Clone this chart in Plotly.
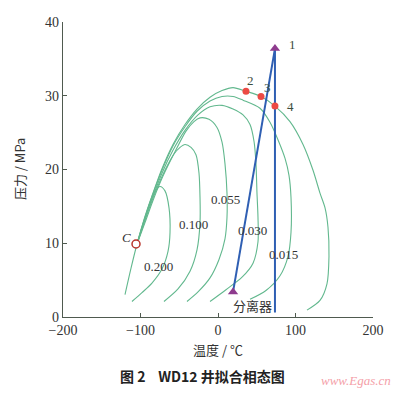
import plotly.graph_objects as go

# Phase envelope (bubble + dew curve), temperature (°C) / pressure (MPa)
env_x = [-120.0, -112.3, -104.5, -95.5, -85.2, -72.3, -58.1, -42.6, -27.1, -10.3, 5.2, 19.4, 36.1, 55.5, 73.5, 92.9, 109.7, 122.6, 131.6, 138.1, 141.9, 143.2, 140.6, 131.6, 114.8]
env_y = [3.05, 6.6, 9.9, 13.2, 16.4, 20.1, 23.4, 26.1, 28.2, 29.8, 30.7, 31.1, 30.6, 29.9, 28.6, 26.5, 23.4, 19.9, 16.8, 14.8, 12.2, 8.2, 4.5, 2.25, 0.93]

# Quality lines
q015_x = [-104.5, -95.5, -85.2, -72.3, -58.1, -42.6, -27.1, -10.3, 5.2, 19.4, 32.3, 54.2, 67.1, 78.7, 86.5, 91.6, 94.2, 94.2, 90.3, 80.0, 61.9, 41.3]
q015_y = [9.9, 13.1, 16.3, 19.9, 23.2, 25.8, 27.9, 29.3, 29.9, 29.9, 29.4, 28.3, 26.4, 23.7, 21.5, 19.2, 16.2, 11.5, 8.2, 5.6, 3.6, 2.4]

q030_x = [-104.5, -95.5, -85.2, -72.3, -58.1, -42.6, -25.8, -10.3, 5.2, 19.4, 32.3, 41.3, 46.5, 49.0, 50.3, 51.6, 51.6, 45.2, 31.0, 10.3, -10.3]
q030_y = [9.9, 13.0, 16.0, 19.5, 22.6, 25.3, 27.4, 28.5, 28.7, 28.2, 27.4, 26.1, 23.8, 20.8, 16.8, 13.5, 10.2, 7.3, 5.4, 3.7, 2.1]

q055_x = [-104.5, -94.2, -83.9, -71.0, -55.5, -41.3, -31.0, -23.2, -11.6, -1.3, 5.2, 9.0, 11.6, 11.6, 9.0, 1.3, -10.3, -25.8, -40.0]
q055_y = [9.9, 12.8, 15.8, 19.1, 22.4, 25.2, 26.5, 27.0, 26.8, 25.7, 23.7, 20.8, 16.8, 13.5, 10.6, 7.8, 5.3, 3.4, 2.1]

q100_x = [-104.5, -92.9, -81.3, -68.4, -56.8, -49.0, -42.6, -34.8, -28.4, -24.5, -23.2, -23.2, -27.1, -36.1, -51.6, -69.7]
q100_y = [9.9, 13.5, 16.8, 19.9, 22.1, 23.0, 23.4, 23.0, 22.0, 19.5, 16.2, 12.8, 9.1, 6.2, 3.8, 2.1]

q200_x = [-104.5, -95.5, -87.7, -81.3, -74.8, -68.4, -63.2, -61.9, -64.5, -72.3, -85.2, -98.1, -111.0]
q200_y = [9.9, 12.8, 15.5, 17.0, 17.7, 17.1, 14.8, 11.5, 8.9, 6.5, 4.6, 3.3, 2.1]

# Quality labels
q_labels = ["0.015", "0.030", "0.055", "0.100", "0.200"]
q_label_x = [83.9, 43.9, 10.3, -31.0, -77.4]
q_label_y = [8.5, 11.7, 15.9, 12.6, 6.9]

# Well path: point 1 and separator
well_top = (73.5, 36.4)
sep_pt = (19.4, 3.4)
vert_bottom_y = 0.6

# Measured points 2-4
pt_labels = ["2", "3", "4"]
pt_x = [36.1, 55.5, 73.5]
pt_y = [30.6, 29.9, 28.6]

# Critical point
crit_x = [-105.8]
crit_y = [9.9]

x_ticks = [-200, -100, 0, 100, 200]
y_ticks = [0, 10, 20, 30, 40]

GREEN = "#62b88e"
BLUE = "#2f5fb3"
PURPLE = "#8e3b8e"
RED = "#ec4a44"
AXIS = "#4f5a4f"
TXT = "#333333"
SERIF = "Liberation Serif, Noto Sans CJK SC, serif"
CJK = "Noto Sans CJK SC, Liberation Serif, serif"

fig = go.Figure()

for xs, ys in [(env_x, env_y), (q015_x, q015_y), (q030_x, q030_y), (q055_x, q055_y), (q100_x, q100_y), (q200_x, q200_y)]:
    fig.add_trace(go.Scatter(x=xs, y=ys, mode="lines",
                             line=dict(color=GREEN, width=1.1, shape="spline", smoothing=0.8),
                             hoverinfo="skip", showlegend=False))

# Well lines
fig.add_trace(go.Scatter(x=[sep_pt[0], well_top[0]], y=[sep_pt[1], well_top[1]], mode="lines",
                         line=dict(color=BLUE, width=2), showlegend=False))
fig.add_trace(go.Scatter(x=[well_top[0], well_top[0]], y=[well_top[1], vert_bottom_y], mode="lines",
                         line=dict(color=BLUE, width=2), showlegend=False))
# Triangles
fig.add_trace(go.Scatter(x=[well_top[0], sep_pt[0]], y=[well_top[1], sep_pt[1]], mode="markers",
                         marker=dict(symbol="triangle-up", size=9, color=PURPLE), showlegend=False))
# Red points
fig.add_trace(go.Scatter(x=pt_x, y=pt_y, mode="markers",
                         marker=dict(size=7, color=RED), showlegend=False))
# Critical point
fig.add_trace(go.Scatter(x=crit_x, y=crit_y, mode="markers",
                         marker=dict(size=8, color="white", line=dict(color="#b8342c", width=1.5)),
                         showlegend=False))

ann = []
for t, x, y in zip(q_labels, q_label_x, q_label_y):
    ann.append(dict(x=x, y=y, text=t, showarrow=False, font=dict(family=SERIF, size=13, color=TXT)))
ann.append(dict(x=well_top[0], y=well_top[1] + 0.6, text="1", xshift=18, showarrow=False,
                font=dict(family=SERIF, size=13, color="#3d4d3d")))
offs = [(5, 11), (6, 9), (16, 0)]
for t, x, y, (dx, dy) in zip(pt_labels, pt_x, pt_y, offs):
    ann.append(dict(x=x, y=y, text=t, xshift=dx, yshift=dy, showarrow=False,
                    font=dict(family=SERIF, size=13, color="#3d4d3d")))
ann.append(dict(x=crit_x[0], y=crit_y[0], text="<i>C</i>", xshift=-10, yshift=6, showarrow=False,
                font=dict(family=SERIF, size=13, color=TXT)))
ann.append(dict(x=43.9, y=1.6, text="分离器", showarrow=False, font=dict(family=CJK, size=13, color=TXT)))
# Axis titles, caption, watermark
ann.append(dict(xref="paper", yref="paper", x=0.5, y=-0.11, text="温度 / ℃", showarrow=False,
                yanchor="middle", font=dict(family=CJK, size=13, color=TXT)))
ann.append(dict(xref="paper", x=-0.14, yref="paper", y=0.5, text="压力 / MPa", textangle=-90, showarrow=False,
                xanchor="center", font=dict(family=CJK, size=13, color=TXT)))
ann.append(dict(xref="paper", yref="paper", x=0.45, y=-0.2, text="<b>图 2    WD12 井拟合相态图</b>",
                showarrow=False, yanchor="middle", font=dict(family=CJK, size=14, color="#222222")))
ann.append(dict(xref="paper", yref="paper", x=1.065, y=-0.215, text="<i>www.Egas.cn</i>", xanchor="right",
                showarrow=False, yanchor="middle", font=dict(family=SERIF, size=13, color="#f4a0a8")))

# The page body adds an 8px offset, so the figure is sized 392x388
fig.update_layout(
    width=392, height=388,
    margin=dict(l=55, r=27, t=7, b=79),
    plot_bgcolor="white", paper_bgcolor="white",
    annotations=ann,
    xaxis=dict(range=[-200, 200], tickvals=x_ticks, ticks="inside", ticklen=4, tickcolor=AXIS,
               showline=True, linecolor=AXIS, linewidth=1.2, showgrid=False, zeroline=False,
               ticklabeloverflow="allow",
               tickfont=dict(family=SERIF, size=14, color=TXT)),
    yaxis=dict(range=[0, 40], tickvals=y_ticks, ticks="inside", ticklen=4, tickcolor=AXIS,
               showline=True, linecolor=AXIS, linewidth=1.2, showgrid=False, zeroline=False,
               ticklabeloverflow="allow",
               tickfont=dict(family=SERIF, size=14, color=TXT)),
)

fig.write_html("out.html")
